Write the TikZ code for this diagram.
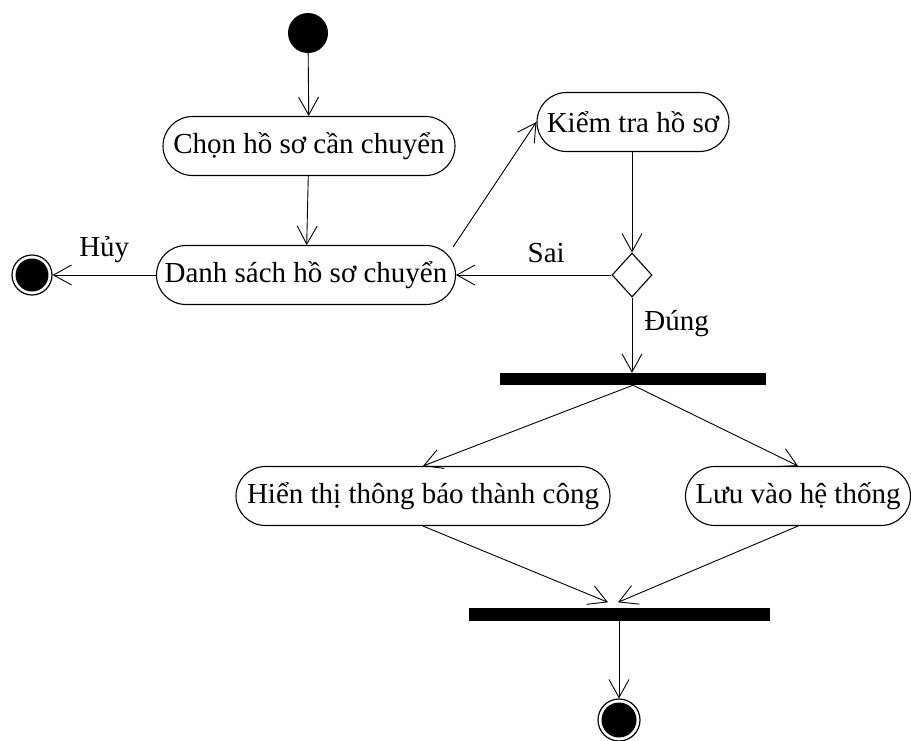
\documentclass[tikz,border=0pt]{standalone}
\usepackage{fontspec}
\setmainfont{Liberation Serif}
\usetikzlibrary{shapes.misc,shapes.geometric,arrows.meta,calc}
\begin{document}
\begin{tikzpicture}[x=1pt,y=-1pt,
  every node/.style={font=\fontsize{29}{34}\selectfont},
  act/.style={rounded rectangle, draw, line width=1.1pt, minimum height=59pt, inner xsep=0pt, inner ysep=0pt},
  bar/.style={rectangle, fill=black, inner sep=0pt},
  arr/.style={line width=0.9pt, -{Straight Barb[length=18pt,width=20pt,line width=0.9pt]}},
  lbl/.style={inner sep=0pt}]
\useasboundingbox (0,0) rectangle (911,740);
% start
\node[circle, fill=black, minimum size=40pt, inner sep=0pt] (start) at (308,33) {};
% activities
\node[act, minimum width=292pt] (chon) at (309,146) {Chọn hồ sơ cần chuyển};
\node[act, minimum width=299pt] (danh) at (306,275) {Danh sách hồ sơ chuyển};
\node[act, minimum width=192pt] (kiem) at (633,122) {Kiểm tra hồ sơ};
\node[act, minimum width=374pt] (hien) at (423,496) {Hiển thị thông báo thành công};
\node[act, minimum width=225pt] (luu) at (798,496) {Lưu vào hệ thống};
% decision
\node[diamond, draw, line width=1.1pt, minimum width=40pt, minimum height=44pt, inner sep=0pt] (dec) at (632,275) {};
% bars
\node[bar, minimum width=266pt, minimum height=12pt] (fork) at (633,379) {};
\node[bar, minimum width=301pt, minimum height=13pt] (join) at (619,614) {};
% end nodes
\node[circle, draw, line width=1.2pt, minimum size=40pt, inner sep=0pt] (endA) at (32,275) {};
\fill (endA.center) circle (16.5);
\node[circle, draw, line width=1.2pt, minimum size=42pt, inner sep=0pt] (endB) at (619,720) {};
\fill (endB.center) circle (17.5);
% connectors
\draw[arr] (start) -- (chon);
\draw[arr] (chon) -- (danh);
\draw[arr] (danh) -- node[lbl, above=12pt] {Hủy} (endA);
\coordinate (dk) at ($(danh.east)+(-3,-28)$);
\draw[arr] (dk) -- (kiem.west);
\draw[arr] (kiem.south -| dec.north) -- (dec.north);
\draw[arr] (dec.west) -- node[lbl, above=12pt, pos=0.42] {Sai} (danh.east);
\draw[arr] (dec.south) -- node[lbl, right=12pt, pos=0.35] {Đúng} (fork.north -| dec.south);
\draw[arr] (fork.south) -- (hien.north);
\draw[arr] (fork.south) -- (luu.north);
\coordinate (j1) at ($(join.north)+(-11,-5)$);
\coordinate (j2) at ($(join.north)+(-1,-5)$);
\draw[arr] (hien.south) -- (j1);
\draw[arr] (luu.south) -- (j2);
\draw[arr] (join.south) -- (endB);
\end{tikzpicture}
\end{document}
